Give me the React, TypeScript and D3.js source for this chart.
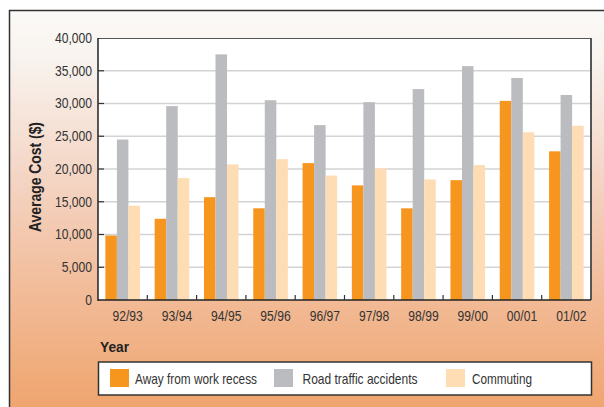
import React, { useMemo } from 'react';
import * as d3 from 'd3';

const years = ['92/93', '93/94', '94/95', '95/96', '96/97', '97/98', '98/99', '99/00', '00/01', '01/02'];
const awayFromWork = [9850, 12400, 15700, 14000, 20900, 17500, 14000, 18300, 30400, 22700];
const roadTraffic = [24500, 29600, 37500, 30500, 26700, 30200, 32200, 35700, 33900, 31300];
const commuting = [14400, 18600, 20700, 21500, 19000, 20100, 18400, 20600, 25600, 26600];
const yTicks = [0, 5000, 10000, 15000, 20000, 25000, 30000, 35000, 40000];

const seriesNames = ['Away from work recess', 'Road traffic accidents', 'Commuting'];
const seriesColors = ['#f7961f', '#bbbcbf', '#fedcb4'];

const W = 604;
const H = 407;
const plot = { left: 98, top: 38, right: 591, bottom: 300 };
const font = "'Liberation Sans', Arial, sans-serif";
const squeeze = 0.88; // the original uses a condensed face

const App: React.FC = () => {
  const series = [awayFromWork, roadTraffic, commuting];

  const { x, inner, y } = useMemo(() => {
    const x = d3.scaleBand<string>().domain(years).range([plot.left, plot.right]).paddingInner(0).paddingOuter(0);
    const inner = d3.scaleBand<number>().domain([0, 1, 2]).range([0, x.bandwidth()]).paddingOuter(0.64).paddingInner(0);
    const y = d3.scaleLinear().domain([0, 40000]).range([plot.bottom, plot.top]);
    return { x, inner, y };
  }, []);

  const fmt = d3.format(',');

  const legendX = [110, 274, 446];
  const legendTextX = [135, 302.5, 472];
  const legendTextLen = [122, 115, 60];

  return (
    <svg width={W} height={H} style={{ position: 'absolute', left: 0, top: 0 }} fontFamily={font}>
      <defs>
        <linearGradient id="bgGrad" x1="0" y1="0" x2="0" y2="1">
          <stop offset="0%" stopColor="#fbfaf8" />
          <stop offset="12%" stopColor="#f8f3ee" />
          <stop offset="40%" stopColor="#f4d6c6" />
          <stop offset="65%" stopColor="#f2bf9f" />
          <stop offset="100%" stopColor="#efa36b" />
        </linearGradient>
      </defs>
      <rect x={0} y={0} width={W} height={H} fill="#ffffff" />
      <rect x={9} y={10} width={W} height={H} fill="url(#bgGrad)" />
      <line x1={9} y1={10.5} x2={W} y2={10.5} stroke="#333" strokeWidth={1.5} />
      <line x1={9.5} y1={10} x2={9.5} y2={H} stroke="#333" strokeWidth={1.5} />

      {/* plot area */}
      <rect x={plot.left} y={plot.top} width={plot.right - plot.left} height={plot.bottom - plot.top} fill="#ffffff" />
      {yTicks.slice(1, -1).map(t => (
        <line key={t} x1={plot.left} x2={plot.right} y1={y(t)} y2={y(t)} stroke="#d3d3d5" strokeWidth={1.3} />
      ))}

      {years.map((yr, i) => (
        <g key={yr}>
          {series.map((s, k) => (
            <rect
              key={k}
              x={(x(yr) ?? 0) + (inner(k) ?? 0)}
              y={y(s[i])}
              width={inner.bandwidth()}
              height={plot.bottom - y(s[i])}
              fill={seriesColors[k]}
            />
          ))}
        </g>
      ))}

      <line x1={plot.left} x2={plot.right} y1={plot.top + 0.5} y2={plot.top + 0.5} stroke="#555" strokeWidth={1.2} />
      <line x1={plot.right} x2={plot.right} y1={plot.top} y2={plot.bottom} stroke="#555" strokeWidth={2} />
      <line x1={plot.left} x2={plot.left} y1={plot.top} y2={plot.bottom + 1} stroke="#222" strokeWidth={1.5} />
      <line x1={plot.left} x2={plot.right} y1={plot.bottom} y2={plot.bottom} stroke="#222" strokeWidth={1.5} />

      {/* y ticks */}
      {yTicks.map(t => (
        <g key={t}>
          {t > 0 && t < 40000 && (
            <line x1={plot.left} x2={plot.left + 6} y1={y(t)} y2={y(t)} stroke="#333" strokeWidth={1.2} />
          )}
          <text
            transform={`translate(92,${y(t)}) scale(${squeeze},1)`}
            dy="0.36em"
            textAnchor="end"
            fontSize={13.8}
            fill="#333"
          >
            {fmt(t)}
          </text>
        </g>
      ))}

      {/* x ticks */}
      {years.slice(1).map(yr => (
        <line key={yr} x1={x(yr)} x2={x(yr)} y1={plot.bottom} y2={plot.bottom - 5} stroke="#333" strokeWidth={1.2} />
      ))}
      {years.map(yr => (
        <text
          key={yr}
          transform={`translate(${(x(yr) ?? 0) + x.bandwidth() / 2 + 5},320.5) scale(${squeeze},1)`}
          textAnchor="middle"
          fontSize={13.8}
          fill="#333"
        >
          {yr}
        </text>
      ))}

      <text x={100} y={352} fontSize={15.5} fontWeight="bold" fill="#222" textLength={29} lengthAdjust="spacingAndGlyphs">Year</text>
      <text
        transform={`translate(41,177) rotate(-90)`}
        x={-55}
        fontSize={16}
        fontWeight="bold"
        fill="#222"
        textLength={110}
        lengthAdjust="spacingAndGlyphs"
      >
        Average Cost ($)
      </text>

      {/* legend */}
      <rect x={98.5} y={362} width={493} height={33} fill="#ffffff" stroke="#333" strokeWidth={1.5} />
      {seriesNames.map((name, k) => (
        <g key={name}>
          <rect x={legendX[k]} y={369} width={19} height={18} fill={seriesColors[k]} />
          <text
            x={legendTextX[k]}
            y={378.5}
            dy="0.35em"
            fontSize={15}
            fill="#333"
            textLength={legendTextLen[k]}
            lengthAdjust="spacingAndGlyphs"
          >
            {name}
          </text>
        </g>
      ))}
    </svg>
  );
};

export default App;
